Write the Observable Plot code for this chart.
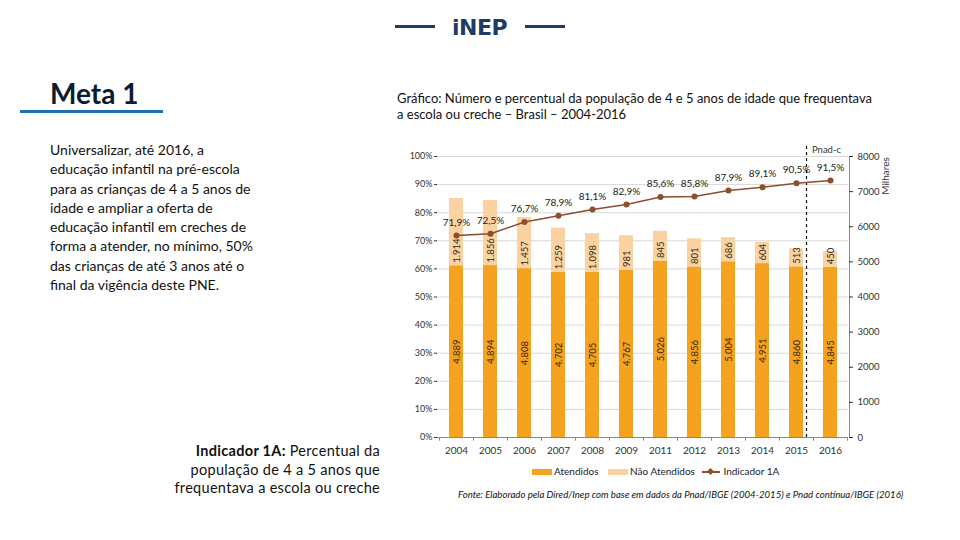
<!DOCTYPE html>
<html>
<head>
<meta charset="utf-8">
<script src="https://cdn.jsdelivr.net/npm/d3@7"></script>
<script src="https://cdn.jsdelivr.net/npm/@observablehq/plot@0.6"></script>
<style>
  html, body { margin: 0; padding: 0; background: #fff; }
  body { width: 960px; height: 540px; position: relative; overflow: hidden; font-family: Lato, "Open Sans", sans-serif; color: #111; }
  .abs { position: absolute; white-space: nowrap; }
  #chart { position: absolute; left: 395px; top: 140px; }
  .sw { display: inline-block; vertical-align: middle; }
</style>
</head>
<body>
<!-- INEP logo -->
<div class="abs" style="left:395px; top:25px; width:40px; height:3px; background:#1f3b66;"></div>
<div class="abs" style="left:525px; top:25px; width:40px; height:3px; background:#1f3b66;"></div>
<div class="abs" style="left:452px; top:14px; font-family:'DejaVu Sans', sans-serif; font-weight:900; font-size:22px; line-height:28px; color:#1f3b66; letter-spacing:-0.5px;">iNEP</div>

<div class="abs" style="left:50px; top:76px; font-size:28px; line-height:34px; font-weight:700; color:#0d1b2e;">Meta 1</div>
<div class="abs" style="left:20px; top:110px; width:143px; height:3px; background:#1f6fb2;"></div>

<div class="abs" style="left:50px; top:140px; font-size:14px; line-height:19.3px; color:#111;">
Universalizar, até 2016, a<br>
educação infantil na pré-escola<br>
para as crianças de 4 a 5 anos de<br>
idade e ampliar a oferta de<br>
educação infantil em creches de<br>
forma a atender, no mínimo, 50%<br>
das crianças de até 3 anos até o<br>
final da vigência deste PNE.
</div>

<div class="abs" style="right:580px; top:442px; font-size:14.5px; line-height:18.5px; letter-spacing:0.3px; text-align:right; color:#111;">
<b>Indicador 1A:</b> Percentual da<br>
população de 4 a 5 anos que<br>
frequentava a escola ou creche
</div>

<div class="abs" style="left:397px; top:90px; font-size:13px; line-height:16px; color:#111;">
Gráfico: Número e percentual da população de 4 e 5 anos de idade que frequentava<br>
a escola ou creche – Brasil – 2004-2016
</div>

<div id="chart"></div>

<div class="abs" style="left:532px; top:463px; font-size:10px; line-height:16px; color:#222;">
  <span class="sw" style="width:20px; height:6px; background:#F4A21F;"></span><span style="margin-left:2px;">Atendidos</span>
  <span class="sw" style="width:20px; height:6px; background:#FBD3A3; margin-left:7px;"></span><span style="margin-left:2px;">Não Atendidos</span>
  <span class="sw" style="width:18px; height:14px; margin-left:5px; position:relative;">
    <span style="position:absolute; left:0; top:6px; width:18px; height:1.5px; background:#8B4E2E;"></span>
    <span style="position:absolute; left:6px; top:4px; width:5px; height:5px; background:#8B4E2E; transform:rotate(45deg);"></span>
  </span><span style="margin-left:3px;">Indicador 1A</span>
</div>

<div class="abs" style="left:458px; top:488px; font-size:9.6px; line-height:14px; font-style:italic; color:#111;">
Fonte: Elaborado pela Dired/Inep com base em dados da Pnad/IBGE (2004-2015) e Pnad contínua/IBGE (2016)
</div>

<script>
const years = ["2004","2005","2006","2007","2008","2009","2011","2012","2013","2014","2015","2016"];
const atendidos = [4889, 4894, 4808, 4702, 4705, 4767, 5026, 4856, 5004, 4951, 4860, 4845];
const naoAtendidos = [1914, 1856, 1457, 1259, 1098, 981, 845, 801, 686, 604, 513, 450];
const indicador = [71.9, 72.5, 76.7, 78.9, 81.1, 82.9, 85.6, 85.8, 87.9, 89.1, 90.5, 91.5];
const leftTicks = [0,10,20,30,40,50,60,70,80,90,100];
const rightTicks = [0,1000,2000,3000,4000,5000,6000,7000,8000];
const RIGHT_MAX = 8000; // right axis (milhares) maps to 100%

const rows = years.map((y, i) => ({year: y, at: atendidos[i], na: naoAtendidos[i], ind: indicador[i]}));
const toPct = v => v / RIGHT_MAX * 100;
const br = d3.formatLocale({decimal: ",", thousands: ".", grouping: [3], currency: ["R$", ""]});
const fmtN = br.format(",d");
const fmtP = br.format(".1f");

const colAt = "#F4A21F", colNa = "#FBD3A3", colLine = "#8B4E2E";

const chart = Plot.plot({
  width: 500,
  height: 330,
  marginLeft: 42,
  marginRight: 47,
  marginTop: 16,
  marginBottom: 33,
  style: {fontFamily: "Lato, 'Open Sans', sans-serif", fontSize: "9px", color: "#333", background: "transparent"},
  x: {domain: years, paddingInner: 0.59, paddingOuter: 0.3, label: null},
  y: {domain: [0, 100], label: null},
  marks: [
    Plot.gridY(leftTicks.slice(1), {stroke: "#d9d9d9", strokeOpacity: 1}),
    Plot.barY(rows, {x: "year", y1: 0, y2: d => toPct(d.at), fill: colAt}),
    Plot.barY(rows, {x: "year", y1: d => toPct(d.at), y2: d => toPct(d.at + d.na), fill: colNa}),
    Plot.text(rows, {x: "year", y: d => toPct(d.at) / 2, text: d => fmtN(d.at), rotate: -90, fill: "#3a2a10", fontSize: 9.5}),
    Plot.text(rows, {x: "year", y: d => toPct(d.at), text: d => fmtN(d.na), rotate: -90, textAnchor: "start", dy: -3, fill: "#3a2a10", fontSize: 9.5}),
    Plot.ruleY([0], {stroke: "#888"}),
    Plot.ruleX(years, {x: d => d, dx: -17, y1: 0, y2: -1.3, stroke: "#888"}),
    Plot.ruleX([years[years.length - 1]], {x: d => d, dx: 17, y1: 0, y2: -1.3, stroke: "#888"}),
    Plot.ruleX([years[years.length - 1]], {x: d => d, dx: 19, y1: 0, y2: 100, stroke: "#888"}),
    Plot.ruleX([years[years.length - 1]], {x: d => d, dx: -24, y1: 0, y2: 104, stroke: "#111", strokeDasharray: "3,3", strokeWidth: 1.2}),
    Plot.text([years[years.length - 1]], {x: d => d, y: 102.3, text: () => "Pnad-c", dx: -4, fill: "#333", fontSize: 9.5}),
    Plot.line(rows, {x: "year", y: "ind", stroke: colLine, strokeWidth: 1.5}),
    Plot.dot(rows, {x: "year", y: "ind", fill: colLine, r: 3, symbol: "circle"}),
    Plot.text(rows, {x: "year", y: "ind", text: d => fmtP(d.ind) + "%", dy: -13, fill: "#222", fontSize: 10}),
    Plot.axisY(leftTicks, {anchor: "left", tickFormat: d => d + "%", tickSize: 3, tickPadding: 2, fill: "#333", fontSize: 9}),
    Plot.axisY(rightTicks.map(toPct), {anchor: "right", tickFormat: d => String(Math.round(d * RIGHT_MAX / 100)), tickSize: 4, tickPadding: 5, fill: "#333", fontSize: 9.5}),
    Plot.axisX({anchor: "bottom", tickSize: 0, tickPadding: 9, fill: "#333", fontSize: 10})
  ]
});
document.getElementById("chart").appendChild(chart);
</script>
<div class="abs" style="left:879px; top:170px; font-size:10px; line-height:12px; color:#333; transform:rotate(-90deg); transform-origin:center; width:40px; text-align:center; margin-left:-14px;">Milhares</div>
</body>
</html>
